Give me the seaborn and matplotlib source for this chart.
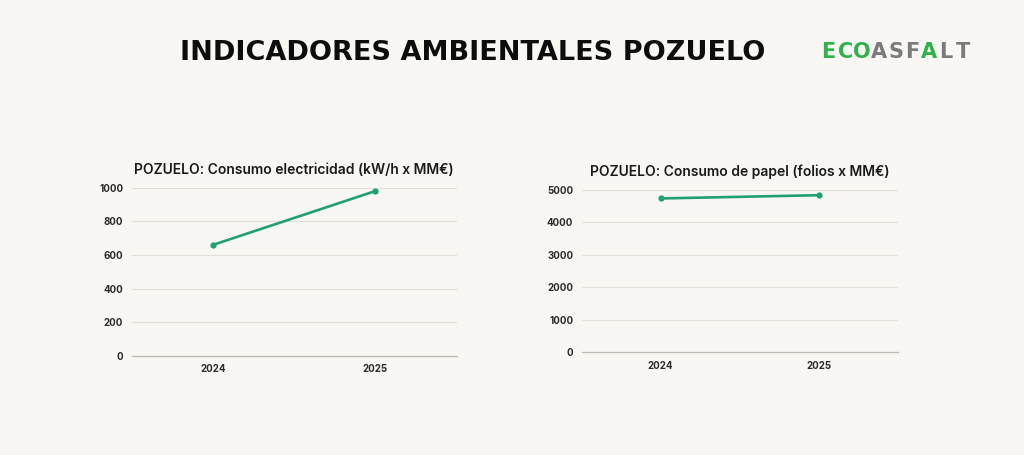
import pandas as pd
import numpy as np
import matplotlib
matplotlib.use('Agg')
import matplotlib.pyplot as plt
import seaborn as sns

# -----------------------------
# DATOS
# -----------------------------
anios = ['2024', '2025']
electricidad = [660, 980]      # kW/h x MM€
papel = [4740, 4840]           # folios x MM€

elec_ticks = [0, 200, 400, 600, 800, 1000]
papel_ticks = [0, 1000, 2000, 3000, 4000, 5000]

titulo = 'INDICADORES AMBIENTALES POZUELO'
sub_elec = 'POZUELO: Consumo electricidad (kW/h x MM€)'
sub_papel = 'POZUELO: Consumo de papel (folios x MM€)'

# -----------------------------
# ESTILO
# -----------------------------
fondo = '#F9F7F3'
verde = '#21A075'
sns.set_theme(style='white')
plt.rcParams['font.family'] = ['Inter', 'DejaVu Sans']

fig = plt.figure(figsize=(10.24, 4.55), dpi=100, facecolor=fondo)

ax1 = fig.add_axes([0.1286, 0.2176, 0.3174, 0.370])
ax2 = fig.add_axes([0.5680, 0.2257, 0.3086, 0.3567])

df_elec = pd.DataFrame({'anio': anios, 'valor': electricidad})
df_papel = pd.DataFrame({'anio': anios, 'valor': papel})

for ax, df, ticks, sub in [(ax1, df_elec, elec_ticks, sub_elec),
                           (ax2, df_papel, papel_ticks, sub_papel)]:
    ax.set_facecolor(fondo)
    sns.lineplot(data=df, x='anio', y='valor', ax=ax, color=verde,
                 linewidth=1.9, marker='o', markersize=4.5,
                 markeredgewidth=0, zorder=3)
    ax.set_xlim(-0.5, 1.5)
    ax.set_ylim(ticks[0], ticks[-1])
    ax.set_yticks(ticks)
    ax.set_xlabel('')
    ax.set_ylabel('')
    ax.yaxis.grid(True, color='#E2DFDA', linewidth=0.8)
    ax.xaxis.grid(False)
    for s in ['top', 'right', 'left']:
        ax.spines[s].set_visible(False)
    ax.spines['bottom'].set_color('#BDBAB5')
    ax.spines['bottom'].set_linewidth(0.9)
    ax.tick_params(axis='both', length=0, labelsize=7, colors='#2B2B2B')
    ax.tick_params(axis='y', pad=6)
    ax.tick_params(axis='x', pad=6)
    for lbl in ax.get_xticklabels() + ax.get_yticklabels():
        lbl.set_fontweight('bold')
    ax.set_title(sub, fontsize=10, fontweight='semibold', color='#1A1A1A', pad=10)

# Título principal
fig.text(0.462, 0.884, titulo, ha='center', va='center', fontsize=19.5,
         fontweight='bold', color='#0D0D0D', family=['DejaVu Sans'])

# Logo ECOASFALT
letras = list('ECOASFALT')
colores = ['#2DB34A'] * 3 + ['#7B7B7B'] * 3 + ['#2DB34A'] + ['#7B7B7B'] * 2
x0 = 0.809
for i, (l, c) in enumerate(zip(letras, colores)):
    fig.text(x0 + i * 0.0164, 0.886, l, ha='center', va='center', fontsize=15,
             fontweight='bold', color=c, family=['DejaVu Sans'])

fig.savefig('out.png', dpi=100, facecolor=fondo)
